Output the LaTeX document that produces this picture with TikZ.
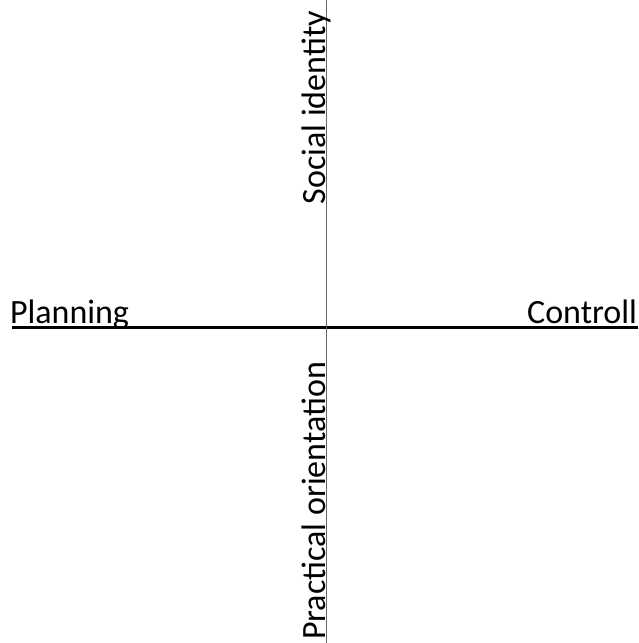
\documentclass[tikz,border=0pt]{standalone}
\usepackage{fontspec}
\setmainfont{Carlito}
\usetikzlibrary{positioning}

\begin{document}
\begin{tikzpicture}[
    x=1pt, y=-1pt,
    axislabel/.style={inner sep=0pt, outer sep=0pt, font=\fontsize{34}{40}\selectfont},
    haxis/.style={line width=2.4pt, black},
    vaxis/.style={line width=1.4pt, black!60},
  ]
    \useasboundingbox (0,0) rectangle (638,643);

    % Axis ends
    \coordinate (west)  at (12, 327.5);
    \coordinate (east)  at (638, 327.5);
    \coordinate (north) at (326.5, 0);
    \coordinate (south) at (326.5, 643);

    % Axes
    \draw[haxis] (west) -- (east);
    \draw[vaxis] (north) -- (south);

    % Labels
    \node[axislabel, anchor=base west] (plan) at (10, 323) {Planning};
    \node[axislabel, anchor=base east] (ctrl) at (637, 323) {Controll};
    \node[axislabel, rotate=90, anchor=base east] (soc) at (325, 11) {Social identity};
    \node[axislabel, rotate=90, anchor=base east] (prac) at (325, 362) {Practical orientation};
  \end{tikzpicture}
\end{document}
